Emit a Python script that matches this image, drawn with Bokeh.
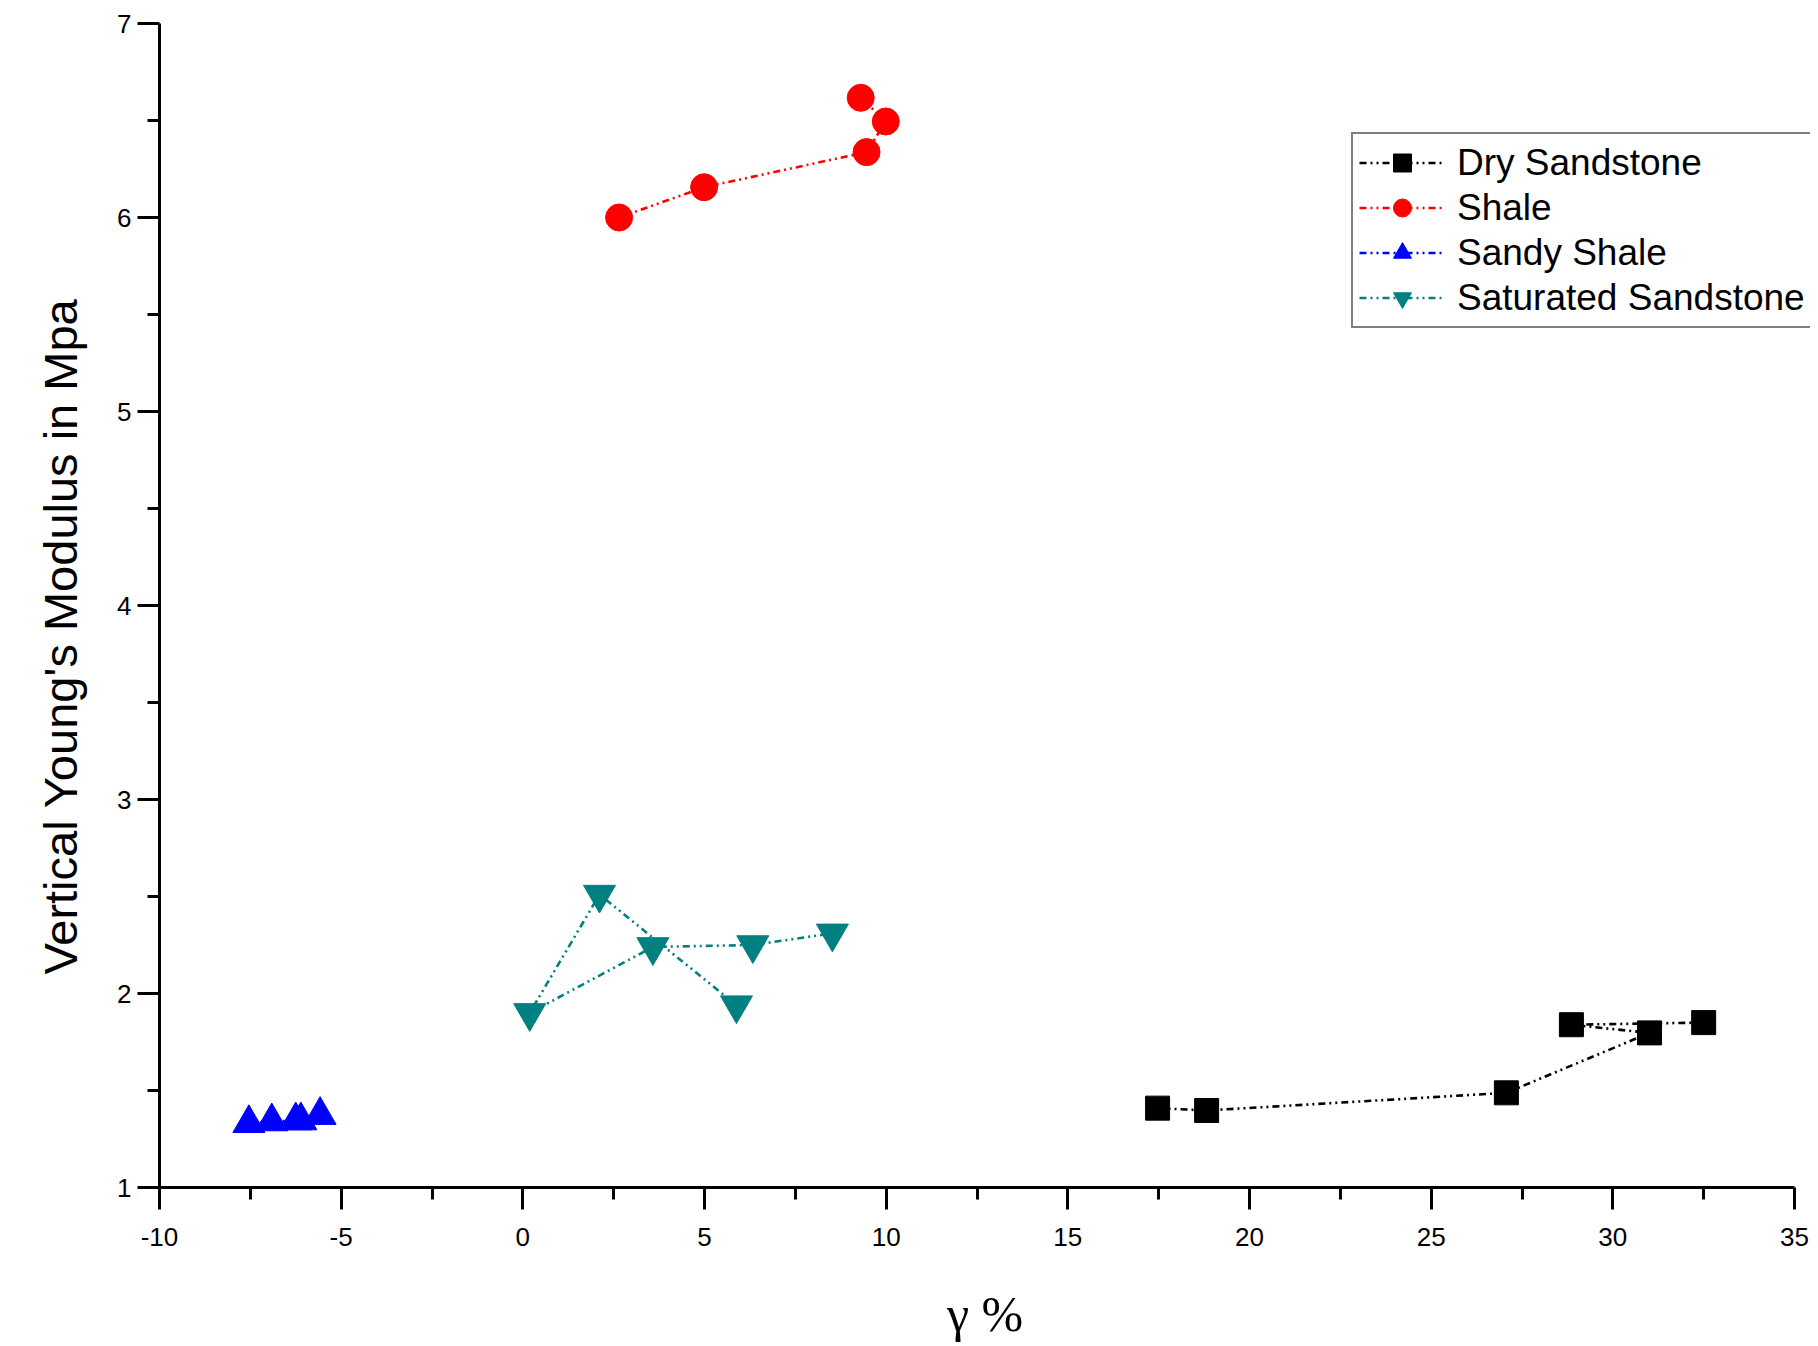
from bokeh.plotting import figure
from bokeh.models import FixedTicker, Range1d, Legend, Title
from bokeh.embed import file_html
from bokeh.resources import INLINE

# ---- data ----
dry_x = [17.47, 18.82, 27.07, 31.01, 28.86, 32.50]
dry_y = [1.409, 1.397, 1.488, 1.797, 1.839, 1.850]

shale_x = [2.65, 4.99, 9.46, 9.99, 9.30]
shale_y = [6.000, 6.156, 6.337, 6.495, 6.617]

sandy_x = [-7.54, -6.91, -6.25, -6.11, -5.58]
sandy_y = [1.331, 1.340, 1.345, 1.345, 1.373]

sat_x = [5.88, 2.11, 0.19, 3.58, 6.33, 8.52]
sat_y = [1.94, 2.51, 1.90, 2.24, 2.25, 2.31]

x_ticks = [-10, -5, 0, 5, 10, 15, 20, 25, 30, 35]
x_minor = [-7.5, -2.5, 2.5, 7.5, 12.5, 17.5, 22.5, 27.5, 32.5]
y_ticks = [1, 2, 3, 4, 5, 6, 7]
y_minor = [1.5, 2.5, 3.5, 4.5, 5.5, 6.5]

W, H = 1810, 1346
LEFT, TOP = 159, 23
PX_PER_X = 1635 / 45.0          # frame pixels per x unit (x=-10..35 over 1635 px)
frame_w = W - LEFT
x_end = -10 + frame_w / PX_PER_X  # frame runs a little past 35, like the reference

p = figure(width=W, height=H, output_backend="svg", toolbar_location=None,
           x_range=Range1d(-10, x_end), y_range=Range1d(1, 7),
           min_border_left=LEFT, min_border_right=0,
           min_border_top=TOP, min_border_bottom=H - TOP - 1164)
p.background_fill_color = "white"
p.border_fill_color = "white"
p.outline_line_color = None
p.grid.visible = False

dash = "7 4 2 4 2 4"
lw = 2.6

series = [
    ("Dry Sandstone", dry_x, dry_y, "black", "square", 24),
    ("Shale", shale_x, shale_y, "#FF0000", "circle", 27),
    ("Sandy Shale", sandy_x, sandy_y, "#0000FF", "triangle", 32),
    ("Saturated Sandstone", sat_x, sat_y, "#008080", "inverted_triangle", 32),
]

items = []
for name, xs, ys, col, mk, sz in series:
    l = p.line(xs, ys, line_color=col, line_width=lw, line_dash=dash)
    s = p.scatter(xs, ys, marker=mk, size=sz, fill_color=col, line_color=col)
    items.append((name, [l, s]))

legend = Legend(items=items, location=(1192, 859))
legend.label_text_font = "Liberation Sans"
legend.label_text_font_size = "37px"
legend.label_text_color = "black"
legend.glyph_width = 86
legend.glyph_height = 45
legend.label_height = 45
legend.spacing = 0
legend.padding = 6
legend.margin = 0
legend.label_standoff = 12
legend.border_line_color = "black"
legend.border_line_width = 2
legend.background_fill_color = "white"
legend.background_fill_alpha = 1.0
p.add_layout(legend)

# axes
for ax in (p.xaxis[0], p.yaxis[0]):
    ax.axis_line_width = 3
    ax.axis_line_color = "black"
    ax.major_tick_line_width = 3
    ax.minor_tick_line_width = 3
    ax.major_tick_line_color = "black"
    ax.minor_tick_line_color = "black"
    ax.major_tick_out = 22
    ax.major_tick_in = 0
    ax.minor_tick_out = 12
    ax.minor_tick_in = 0
    ax.major_label_text_font = "Liberation Sans"
    ax.major_label_text_font_size = "26px"
    ax.major_label_text_color = "black"
    ax.axis_label_text_font_style = "normal"
    ax.axis_label_text_color = "black"

p.xaxis.bounds = (-10, 35)
p.xaxis.ticker = FixedTicker(ticks=x_ticks, minor_ticks=x_minor)
p.yaxis.ticker = FixedTicker(ticks=y_ticks, minor_ticks=y_minor)
p.xaxis.major_label_overrides = {t: str(t) for t in x_ticks}
p.xaxis.major_label_standoff = 18
p.yaxis.major_label_standoff = 6

ytitle = Title(text="Vertical Young's Modulus in Mpa", align="left", offset=213,
               text_font="Liberation Sans", text_font_size="47px",
               text_font_style="normal", text_color="black", standoff=56)
p.add_layout(ytitle, "left")

p.xaxis.axis_label = "γ %"
p.xaxis.axis_label_text_font = "Liberation Serif"
p.xaxis.axis_label_text_font_size = "50px"
p.xaxis.axis_label_standoff = 37

open("out.html", "w").write(file_html(p, INLINE))
